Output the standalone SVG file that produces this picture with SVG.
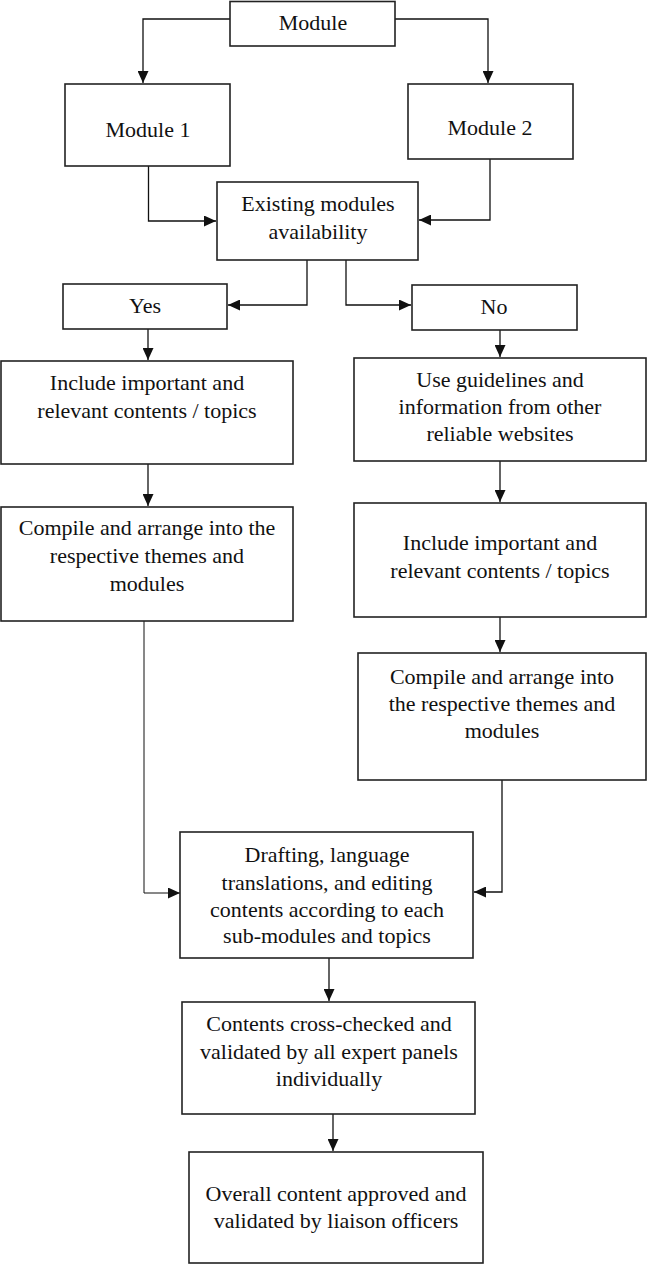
<svg xmlns="http://www.w3.org/2000/svg" width="647" height="1265" viewBox="0 0 647 1265">
<style>
.box{fill:#fff;stroke:#222;stroke-width:1.6}
.t{font-family:"Liberation Serif","Times New Roman",serif;font-size:22px;fill:#111;text-anchor:middle}
.c{fill:none;stroke:#111;stroke-width:1.3}
</style>
<defs>
<marker id="ah" markerUnits="userSpaceOnUse" markerWidth="12" markerHeight="11" refX="12" refY="5.5" orient="auto">
<path d="M0,0 L12,5.5 L0,11 z" fill="#111"/>
</marker>
</defs>
<rect width="647" height="1265" fill="#fff"/>
<g id="connectors">
<path class="c" d="M230,19 H143 V83" marker-end="url(#ah)"/>
<path class="c" d="M395,19 H488 V83" marker-end="url(#ah)"/>
<path class="c" d="M148.5,166 V221 H216" marker-end="url(#ah)"/>
<path class="c" d="M490,159 V220 H419" marker-end="url(#ah)"/>
<path class="c" d="M307,260 V305 H228" marker-end="url(#ah)"/>
<path class="c" d="M346,260 V305 H411" marker-end="url(#ah)"/>
<path class="c" d="M148,329 V360" marker-end="url(#ah)"/>
<path class="c" d="M500,330 V357" marker-end="url(#ah)"/>
<path class="c" d="M148,464 V506" marker-end="url(#ah)"/>
<path class="c" d="M500,461 V502" marker-end="url(#ah)"/>
<path class="c" d="M500,617 V652" marker-end="url(#ah)"/>
<path class="c" d="M144,621 V893 H180" marker-end="url(#ah)" style="stroke-width:1"/>
<path class="c" d="M502,780 V892 H474" marker-end="url(#ah)"/>
<path class="c" d="M329,958 V1001" marker-end="url(#ah)"/>
<path class="c" d="M333,1114 V1151" marker-end="url(#ah)"/>
</g>
<g id="module"><rect class="box" x="230" y="1.5" width="165" height="44.5"/><text class="t" x="313" y="30">Module</text></g>
<g id="module1"><rect class="box" x="65" y="84" width="165" height="82"/><text class="t" x="148" y="137">Module 1</text></g>
<g id="module2"><rect class="box" x="408" y="84" width="165" height="75"/><text class="t" x="490" y="135">Module 2</text></g>
<g id="existing"><rect class="box" x="217" y="182" width="201" height="78"/><text class="t" x="318" y="211">Existing modules</text><text class="t" x="318" y="239">availability</text></g>
<g id="yes"><rect class="box" x="63" y="284" width="164" height="45"/><text class="t" x="145" y="313">Yes</text></g>
<g id="no"><rect class="box" x="412" y="285" width="165" height="45"/><text class="t" x="494" y="314">No</text></g>
<g id="include-left"><rect class="box" x="1" y="361" width="292" height="103"/><text class="t" x="147" y="390">Include important and</text><text class="t" x="147" y="418">relevant contents / topics</text></g>
<g id="use-guidelines"><rect class="box" x="354" y="358" width="292" height="103"/><text class="t" x="500" y="387">Use guidelines and</text><text class="t" x="500" y="414">information from other</text><text class="t" x="500" y="441">reliable websites</text></g>
<g id="compile-left"><rect class="box" x="1" y="507" width="292" height="114"/><text class="t" x="147" y="535">Compile and arrange into the</text><text class="t" x="147" y="563">respective themes and</text><text class="t" x="147" y="591">modules</text></g>
<g id="include-right"><rect class="box" x="354" y="503" width="292" height="114"/><text class="t" x="500" y="550">Include important and</text><text class="t" x="500" y="578">relevant contents / topics</text></g>
<g id="compile-right"><rect class="box" x="358" y="653" width="288" height="127"/><text class="t" x="502" y="684">Compile and arrange into</text><text class="t" x="502" y="711">the respective themes and</text><text class="t" x="502" y="738">modules</text></g>
<g id="drafting"><rect class="box" x="180" y="832" width="293" height="126"/><text class="t" x="327" y="862">Drafting, language</text><text class="t" x="327" y="890">translations, and editing</text><text class="t" x="327" y="917">contents according to each</text><text class="t" x="327" y="943">sub-modules and topics</text></g>
<g id="contents"><rect class="box" x="182" y="1002" width="293" height="112"/><text class="t" x="329" y="1031">Contents cross-checked and</text><text class="t" x="329" y="1059">validated by all expert panels</text><text class="t" x="329" y="1086">individually</text></g>
<g id="overall"><rect class="box" x="189" y="1152" width="294" height="111"/><text class="t" x="336" y="1201">Overall content approved and</text><text class="t" x="336" y="1228">validated by liaison officers</text></g>
</svg>
